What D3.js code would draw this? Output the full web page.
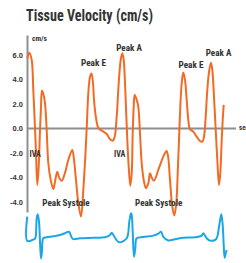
<!DOCTYPE html>
<html>
<head>
<meta charset="utf-8">
<script src="https://cdn.jsdelivr.net/npm/d3@7/dist/d3.min.js"></script>
<style>
  html, body { margin: 0; padding: 0; background: #fff; }
  svg { display: block; }
  text { font-family: "Liberation Sans Narrow", "Roboto Condensed", "Arial Narrow", "Liberation Sans", sans-serif; font-stretch: condensed; font-weight: bold; fill: #333; }
</style>
</head>
<body>
<svg id="chart" width="246" height="263"></svg>
<script>
// Tissue velocity trace: time (s), velocity (cm/s)
const velTime = [0.003,0.023,0.047,0.063,0.08,0.09,0.103,0.117,0.13,0.14,0.15,0.17,0.183,0.197,0.213,0.237,0.263,0.283,0.303,0.323,0.347,0.38,0.413,0.453,0.47,0.49,0.513,0.54,0.563,0.583,0.597,0.613,0.63,0.645,0.66,0.67,0.69,0.715,0.763,0.797,0.83,0.857,0.877,0.897,0.917,0.937,0.953,0.967,0.983,1.0,1.017,1.033,1.047,1.057,1.067,1.077,1.097,1.113,1.13,1.147,1.17,1.19,1.213,1.23,1.25,1.27,1.313,1.363,1.395,1.41,1.43,1.453,1.473,1.493,1.507,1.52,1.533,1.547,1.563,1.58,1.597,1.613,1.63,1.663,1.697,1.73,1.753,1.77,1.787,1.803,1.823,1.84,1.853,1.87,1.887,1.903,1.92,1.933,1.947,1.957,1.967];
const velValue = [5.73,6.19,5.59,3.14,0.04,-2.0,-4.61,-3.12,-0.12,1.78,3.09,2.6,1.78,-0.12,-2.82,-4.2,-4.94,-4.2,-3.53,-4.04,-4.26,-3.63,-2.57,-1.76,-2.57,-4.2,-6.08,-7.18,-5.02,-2.3,0.02,2.87,4.23,4.49,3.71,2.33,0.86,0.02,-0.26,-0.45,-0.88,-1.0,-0.67,0.96,3.69,5.59,6.14,5.59,3.14,-0.37,-3.12,-4.67,-3.66,-0.39,1.78,2.73,2.33,1.78,-0.39,-2.84,-4.34,-4.88,-4.47,-3.66,-4.07,-4.26,-3.39,-2.3,-1.84,-2.24,-4.2,-6.38,-7.1,-6.08,-3.66,-0.94,1.78,3.69,4.56,3.96,2.33,0.69,-0.07,-0.26,-0.67,-1.02,-1.08,-0.67,0.96,3.14,4.78,5.37,4.78,2.6,-0.12,-2.57,-4.61,-3.66,-0.94,0.69,1.92];

// ECG trace: time (s), amplitude (mV)
const ecgTime = [0.003,0.004,0.07,0.083,0.097,0.107,0.12,0.13,0.14,0.15,0.163,0.197,0.263,0.33,0.38,0.42,0.457,0.53,0.663,0.78,0.83,0.847,0.88,0.92,0.997,1.023,1.04,1.047,1.057,1.07,1.083,1.097,1.163,1.263,1.313,1.34,1.363,1.413,1.48,1.563,1.68,1.747,1.763,1.797,1.83,1.89,1.923,1.943,1.957,1.967,1.977,1.987,1.997];
const ecgValue = [0.89,-0.125,-0.055,-0.01,0.82,0.99,0.68,-0.15,-0.85,-0.57,-0.01,0.03,0.07,0.125,0.2,0.26,-0.04,-0.01,0.01,0.03,0.125,0.22,0.01,-0.18,-0.01,0.68,1.03,0.96,0.26,-0.78,-0.43,-0.01,0.04,0.1,0.18,0.26,0.05,-0.1,-0.05,0.01,0.03,0.1,0.2,-0.01,-0.11,-0.05,0.54,0.99,0.54,-0.29,-0.82,-0.64,-0.5];

// Axis ticks
const tickValues = [6, 4, 2, 0, -2, -4, -6];
const tickLabels = ["6.0", "4.0", "2.0", "0.0", "-2.0", "-4.0", "-4.0"];

// Annotations
const annLabels = ["Peak E", "Peak A", "Peak E", "Peak A", "IVA", "IVA", "Peak Systole", "Peak Systole"];
const annTime =   [0.665, 1.02, 1.64, 1.915, 0.025, 0.87, 0.39, 1.317];
const annValue =  [5.1, 6.3, 4.95, 5.95, -2.29, -2.29, -6.3, -6.3];

const svg = d3.select("#chart");
const x = d3.scaleLinear().domain([0, 2.09]).range([27, 236]);
const y = d3.scaleLinear().domain([-6.82, 7.63]).range([212, 35]);
const ye = d3.scaleLinear().domain([0, 1]).range([238, 214]);

// Title
svg.append("text").attr("x", 26).attr("y", 21)
  .attr("font-size", 16).attr("textLength", 127).attr("lengthAdjust", "spacingAndGlyphs")
  .text("Tissue Velocity (cm/s)");

// Zero line
svg.append("line")
  .attr("x1", x(0)).attr("x2", x(2.09))
  .attr("y1", y(0)).attr("y2", y(0))
  .attr("stroke", "#8e8e8e").attr("stroke-width", 2);

// Y axis
const yAxis = d3.axisLeft(y).tickValues(tickValues)
  .tickFormat((d, i) => tickLabels[i]).tickSize(0).tickPadding(4);
const gy = svg.append("g").attr("transform", `translate(${x(0)},0)`).call(yAxis);
gy.select(".domain").attr("stroke", "#8e8e8e").attr("stroke-width", 2);
gy.selectAll("text").attr("font-size", 7.5).attr("fill", "#333")
  .style("font-family", '"Liberation Sans Narrow", "Liberation Sans", sans-serif');

// units
svg.append("text").attr("x", 32).attr("y", 40.5).attr("font-size", 7)
  .attr("textLength", 15).attr("lengthAdjust", "spacingAndGlyphs").text("cm/s");
svg.append("text").attr("x", 239).attr("y", 129.5).attr("font-size", 7).text("sec");

// Velocity line
const velData = velTime.map((t, i) => [t, velValue[i]]);
const line = d3.line().x(d => x(d[0])).y(d => y(d[1])).curve(d3.curveCatmullRom.alpha(0.5));
svg.append("path").datum(velData).attr("d", line)
  .attr("fill", "none").attr("stroke", "#f26a24").attr("stroke-width", 2)
  .attr("stroke-linejoin", "round");

// ECG line
const ecgData = ecgTime.map((t, i) => [t, ecgValue[i]]);
const lineE = d3.line().x(d => x(d[0])).y(d => ye(d[1])).curve(d3.curveCatmullRom.alpha(0.5));
svg.append("path").datum(ecgData).attr("d", lineE)
  .attr("fill", "none").attr("stroke", "#1aa7e4").attr("stroke-width", 2)
  .attr("stroke-linejoin", "round");

// Annotations
const annWidths = { "Peak E": 25, "Peak A": 25.7, "IVA": 11.4, "Peak Systole": 47.3 };
annLabels.forEach((lab, i) => {
  const anchor = lab === "IVA" ? "start" : "middle";
  svg.append("text").attr("x", x(annTime[i])).attr("y", y(annValue[i]))
    .attr("font-size", 9).attr("text-anchor", anchor)
    .attr("textLength", annWidths[lab]).attr("lengthAdjust", "spacingAndGlyphs")
    .text(lab);
});
</script>
</body>
</html>
